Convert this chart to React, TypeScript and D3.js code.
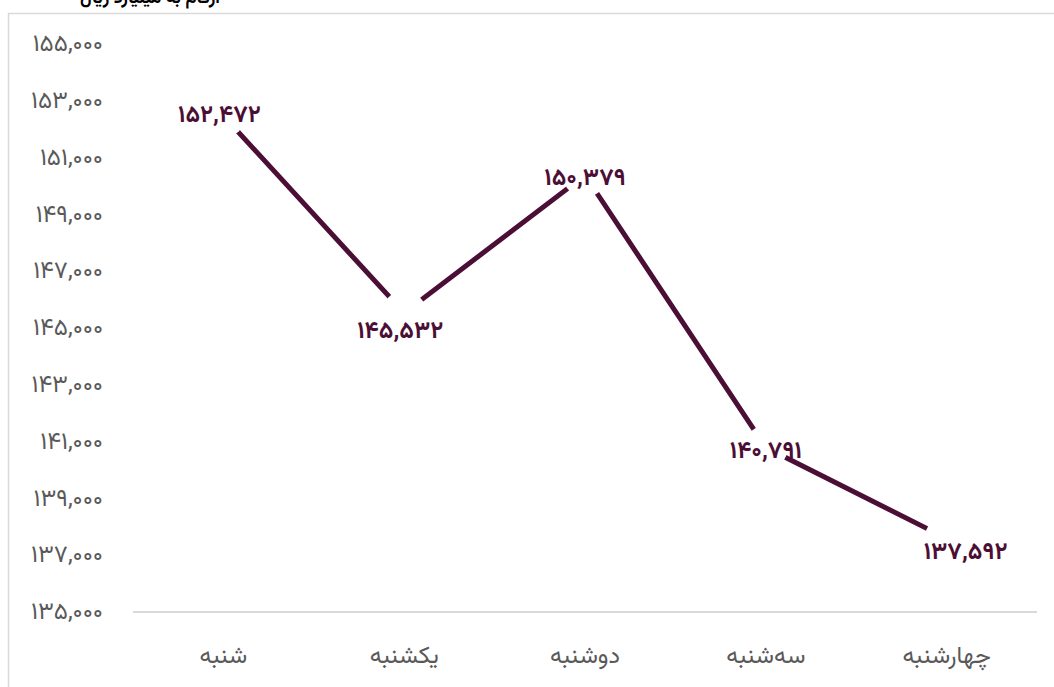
import React from "react";
import * as d3 from "d3";

const categories = ["شنبه", "یکشنبه", "دوشنبه", "سه‌شنبه", "چهارشنبه"];
const values = [152472, 145532, 150379, 140791, 137592];
const yTicks = [135000, 137000, 139000, 141000, 143000, 145000, 147000, 149000, 151000, 153000, 155000];
const title = "ارقام به میلیارد ریال";

// layout nudges for data labels (px)
const labelNudge: [number, number][] = [[-4, -4], [-4, 15], [0, -1], [0, 0], [19, 10]];

const W = 1054;
const H = 687;
const FONT = "Vazirmatn, Vazir, 'DejaVu Sans', sans-serif";
const LINE = "#4b0f35";
const GRAY = "#595959";

const toFa = (s: string) => s.replace(/\d/g, (d) => "۰۱۲۳۴۵۶۷۸۹"[+d]);
const fmt = d3.format(",");

export default function App() {
  const x = d3.scaleBand<string>().domain(categories).range([133, 1037]).padding(0);
  const y = d3.scaleLinear().domain([135000, 155000]).range([612, 44]);
  const cx = (c: string) => (x(c) as number) + x.bandwidth() / 2;
  const pts: [number, number][] = values.map((v, i) => [cx(categories[i]), y(v)]);
  const line = d3.line()(pts) as string;

  return (
    <svg
      width={W}
      height={H}
      style={{ position: "absolute", left: 0, top: 0, background: "#fff" }}
      fontFamily={FONT}
    >
      <rect x={0} y={0} width={W} height={H} fill="#fff" />
      <text x={150} y={3} textAnchor="middle" fontSize={18} fontWeight="bold" fill="#000" direction="rtl">
        {title}
      </text>
      <path d={`M8.5,${H} V13.5 H${W}`} fill="none" stroke="#d9d9d9" strokeWidth={1.5} />
      <line x1={133} x2={1037} y1={y(135000)} y2={y(135000)} stroke="#d9d9d9" strokeWidth={2} />
      {yTicks.map((t) => (
        <text key={t} x={103} y={y(t)} dy="0.3em" textAnchor="end" fontSize={24} fill={GRAY}>
          {toFa(fmt(t))}
        </text>
      ))}
      {categories.map((c) => (
        <text key={c} x={cx(c)} y={654} dy="0.36em" textAnchor="middle" fontSize={24} fill={GRAY} direction="rtl">
          {c}
        </text>
      ))}
      <path d={line} fill="none" stroke={LINE} strokeWidth={5} />
      {pts.map(([px, py], i) => (
        <circle key={i} cx={px} cy={py} r={22} fill="#fff" />
      ))}
      {pts.map(([px, py], i) => (
        <text
          key={"l" + i}
          x={px + labelNudge[i][0]}
          y={py + labelNudge[i][1]}
          dy="0.44em"
          textAnchor="middle"
          fontSize={24}
          fontWeight="bold"
          fill={LINE}
        >
          {toFa(fmt(values[i]))}
        </text>
      ))}
    </svg>
  );
}
